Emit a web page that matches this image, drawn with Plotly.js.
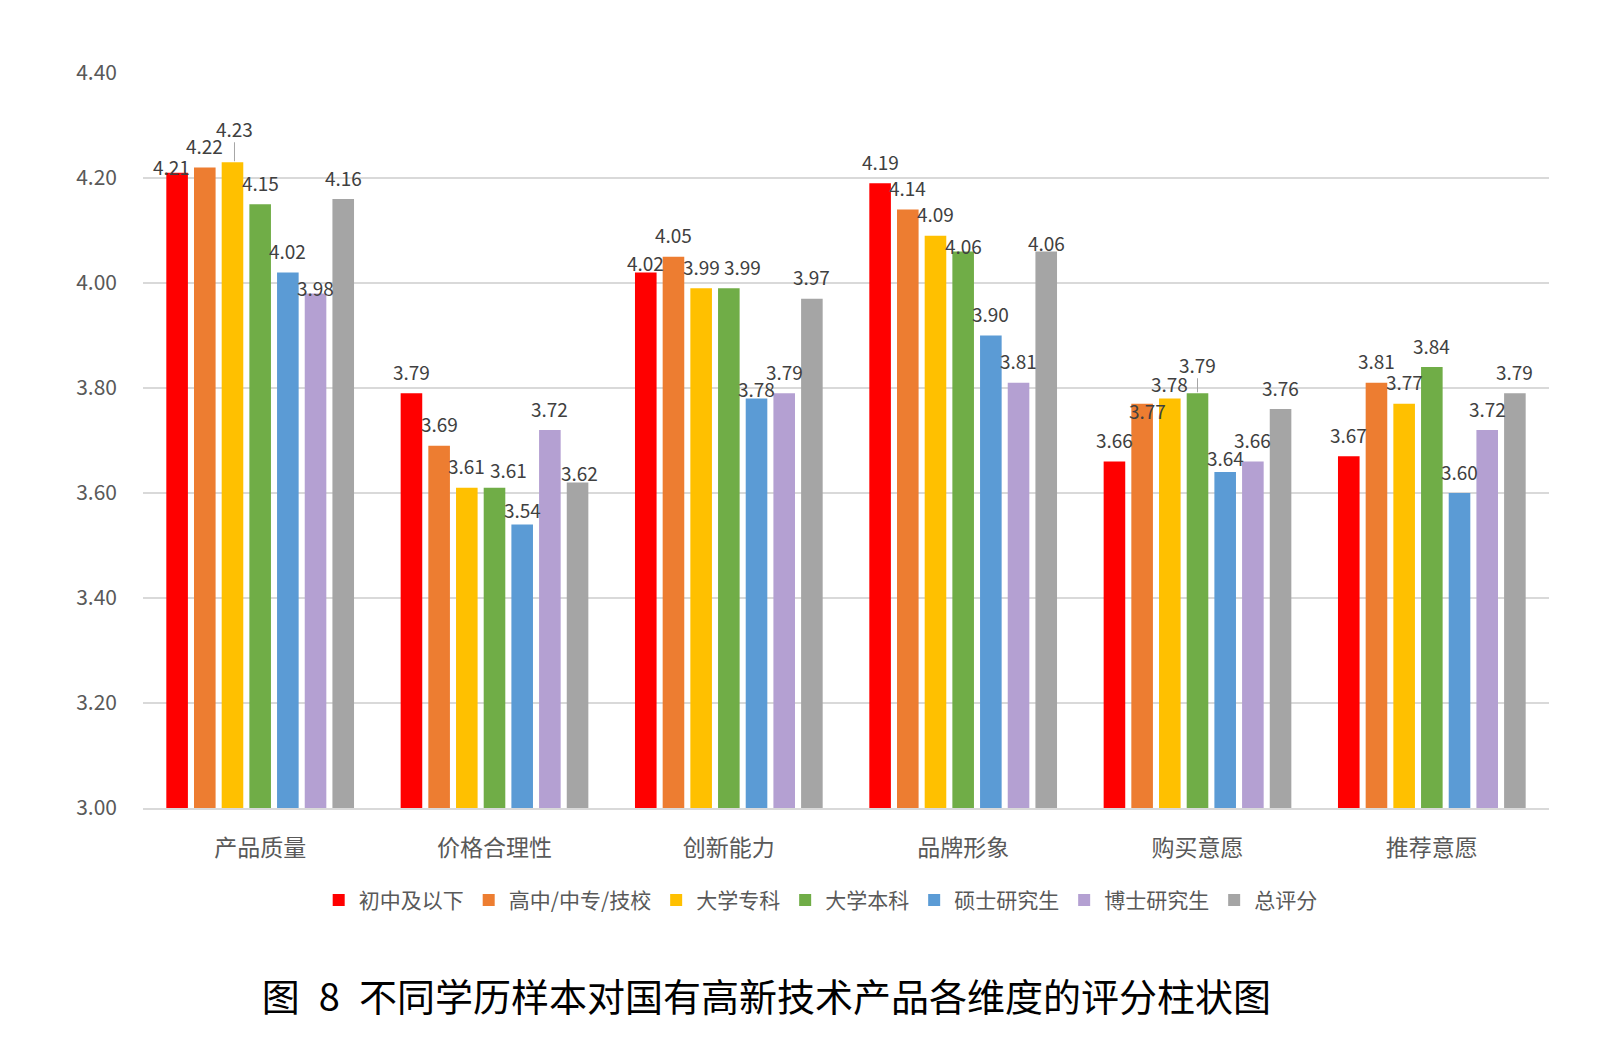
<!DOCTYPE html>
<html><head><meta charset="utf-8">
<script src="https://cdn.plot.ly/plotly-3.0.1.min.js"></script>
<style>html,body{margin:0;padding:0;background:#fff}#chart{width:1600px;height:1038px}</style>
</head><body><div id="chart"></div>
<script>
// ---- data ----
const categories = ["产品质量","价格合理性","创新能力","品牌形象","购买意愿","推荐意愿"];
const seriesNames = ["初中及以下","高中/中专/技校","大学专科","大学本科","硕士研究生","博士研究生","总评分"];
const s1 = [4.21,3.79,4.02,4.19,3.66,3.67];
const s2 = [4.22,3.69,4.05,4.14,3.77,3.81];
const s3 = [4.23,3.61,3.99,4.09,3.78,3.77];
const s4 = [4.15,3.61,3.99,4.06,3.79,3.84];
const s5 = [4.02,3.54,3.78,3.90,3.64,3.60];
const s6 = [3.98,3.72,3.79,3.81,3.66,3.72];
const s7 = [4.16,3.62,3.97,4.06,3.76,3.79];
const yTicks = [3.0,3.2,3.4,3.6,3.8,4.0,4.2,4.4];
const chartTitle = "图\u20028\u2002不同学历样本对国有高新技术产品各维度的评分柱状图";

// ---- style ----
const seriesColors = ["#ff0000","#ed7d31","#ffc000","#70ad47","#5b9bd5","#b4a0d2","#a5a5a5"];
// manual label nudges [dx, dy] in px per series (row) and category (column), like the hand-moved labels of the original
const labelNudge = [
  [[-6,16],[0,0],[0,12],[0,0],[0,0],[0,0]],
  [[0,0],[0,0],[0,0],[0,0],[5,29],[0,0]],
  [[2,-12],[0,0],[0,0],[0,0],[0,7],[0,0]],
  [[0,0],[14,4],[14,0],[0,16],[0,-7],[0,0]],
  [[0,0],[0,7],[0,12],[0,0],[0,7],[0,0]],
  [[0,16],[0,0],[0,0],[0,0],[0,0],[0,0]],
  [[0,0],[2,12],[0,0],[0,13],[0,0],[0,0]]
];
const leaderLines = [[2,0],[3,4]]; // [series, category] labels drawn with a leader line

const W = 1600, H = 1038;
const M = {l:143, r:51, t:73, b:230};
const bargap = 0.173, bargroupgap = 0.22;
const font = "Noto Sans CJK SC, Noto Sans, sans-serif";

const allSeries = [s1,s2,s3,s4,s5,s6,s7];
const nS = allSeries.length;
const catW = (W - M.l - M.r) / categories.length;
const slot = catW * (1 - bargap) / nS;
const baseLift = 22;

const traces = allSeries.map((vals,i)=>({
  type:"bar", name:seriesNames[i], x:categories, y:vals,
  marker:{color:seriesColors[i]}, hoverinfo:"x+y"
}));

const annotations = [];
allSeries.forEach((vals,i)=>{
  vals.forEach((v,j)=>{
    const [dx,dy] = labelNudge[i][j];
    const isLeader = leaderLines.some(p=>p[0]===i && p[1]===j);
    const a = {
      x: categories[j], y: v, xref:"x", yref:"y",
      text: v.toFixed(2), xanchor:"center", yanchor:"middle",
      font:{family:font,size:19,color:"#404040"},
      xshift: (i-(nS-1)/2)*slot + dx
    };
    if (isLeader) {
      Object.assign(a,{showarrow:true, arrowhead:0, arrowwidth:1, arrowcolor:"#a6a6a6",
        ax:0, ay:-(baseLift - dy), standoff:1, borderpad:0});
    } else {
      Object.assign(a,{showarrow:false, yshift: baseLift - dy});
    }
    annotations.push(a);
  });
});

const layout = {
  width:W, height:H, margin:M,
  paper_bgcolor:"#fff", plot_bgcolor:"#fff",
  barmode:"group", bargap:bargap, bargroupgap:bargroupgap,
  font:{family:font,color:"#595959"},
  xaxis:{type:"category", showline:true, linecolor:"#d9d9d9", linewidth:1.5,
    tickfont:{family:font,size:23,color:"#595959"}, ticks:"", ticklabelstandoff:19},
  yaxis:{range:[3,4.4], tickvals:yTicks, tickformat:".2f", showgrid:true,
    gridcolor:"#d9d9d9", gridwidth:1.5, zeroline:false, ticks:"",
    ticklabelstandoff:25,
    tickfont:{family:font,size:21,color:"#595959"}},
  legend:{orientation:"h", x:0.482, xanchor:"center", y:-0.1257, yanchor:"middle",
    font:{family:font,size:21,color:"#595959"}, itemwidth:30, traceorder:"normal"},
  title:{text:chartTitle, x:0.479, xanchor:"center", xref:"container",
    yref:"container", y:1-998/H, yanchor:"middle",
    font:{family:font,size:38,color:"#000"}},
  annotations:annotations,
  showlegend:true
};
Plotly.newPlot("chart",traces,layout,{displayModeBar:false,staticPlot:true});
</script></body></html>
